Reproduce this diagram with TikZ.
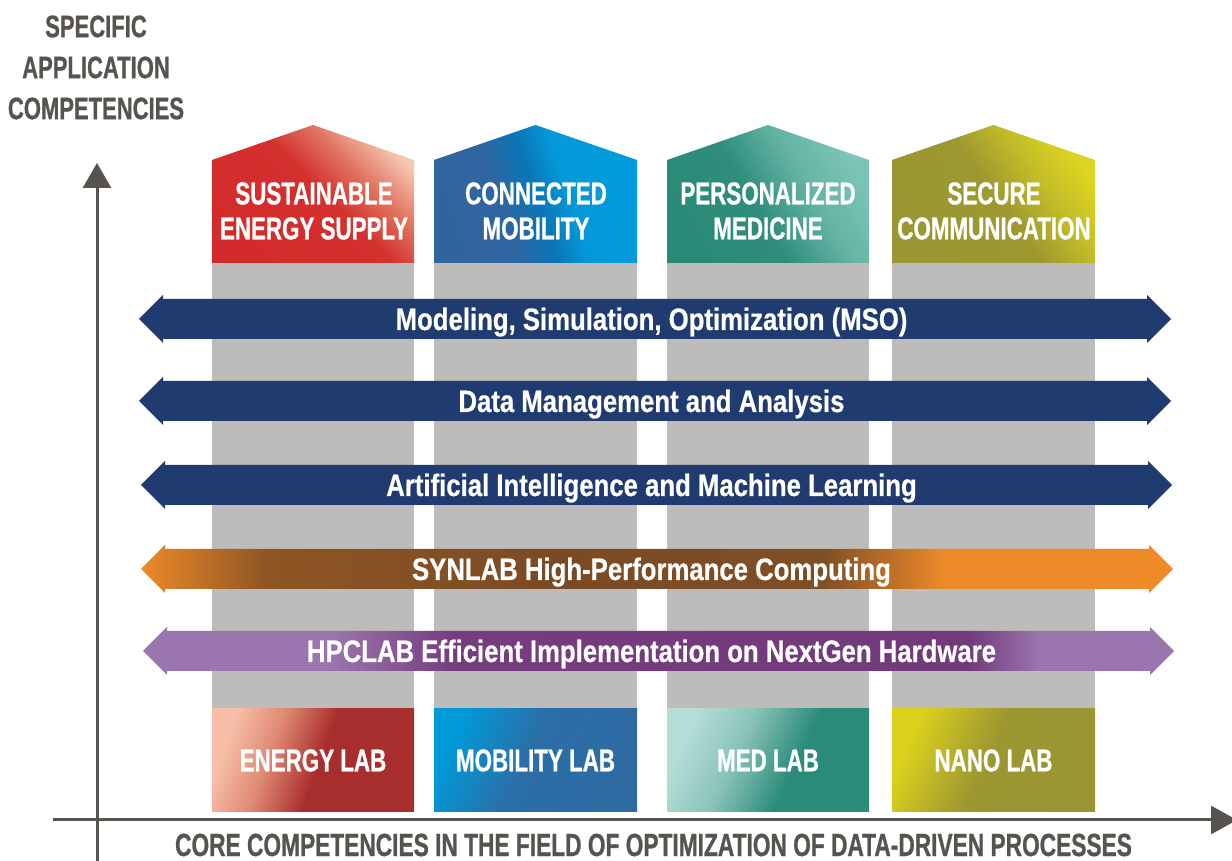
\documentclass[tikz,border=0pt]{standalone}
\usepackage{fontspec}
\setmainfont{Liberation Sans}
\newfontfamily\capsf{Liberation Sans}[FakeStretch=0.71, BoldFeatures={FakeBold=0.8}]
\newfontfamily\lowf{Liberation Sans}[FakeStretch=0.83, BoldFeatures={FakeBold=0.6}]
\usetikzlibrary{arrows.meta}

\definecolor{axisgray}{HTML}{57534F}
\definecolor{colgray}{HTML}{BDBCBA}
\definecolor{navy}{HTML}{1F3B70}

\pgfdeclarehorizontalshading{enTop}{100bp}{color(0bp)=(rgb,255:red,211;green,43;blue,43); color(25bp)=(rgb,255:red,211;green,43;blue,43); color(52bp)=(rgb,255:red,211;green,48;blue,46); color(64bp)=(rgb,255:red,224;green,117;blue,96); color(76bp)=(rgb,255:red,245;green,200;blue,180); color(100bp)=(rgb,255:red,245;green,200;blue,180)}
\pgfdeclarehorizontalshading{moTop}{100bp}{color(0bp)=(rgb,255:red,49;green,100;blue,159); color(25bp)=(rgb,255:red,49;green,100;blue,159); color(40bp)=(rgb,255:red,47;green,102;blue,162); color(50bp)=(rgb,255:red,10;green,118;blue,182); color(58bp)=(rgb,255:red,4;green,152;blue,216); color(75bp)=(rgb,255:red,0;green,156;blue,221); color(100bp)=(rgb,255:red,0;green,156;blue,221)}
\pgfdeclarehorizontalshading{meTop}{100bp}{color(0bp)=(rgb,255:red,42;green,138;blue,120); color(25bp)=(rgb,255:red,42;green,138;blue,120); color(45bp)=(rgb,255:red,46;green,141;blue,123); color(60bp)=(rgb,255:red,98;green,178;blue,163); color(75bp)=(rgb,255:red,124;green,197;blue,182); color(100bp)=(rgb,255:red,124;green,197;blue,182)}
\pgfdeclarehorizontalshading{naTop}{100bp}{color(0bp)=(rgb,255:red,154;green,150;blue,50); color(25bp)=(rgb,255:red,154;green,150;blue,50); color(50bp)=(rgb,255:red,158;green,152;blue,48); color(63bp)=(rgb,255:red,194;green,188;blue,40); color(75bp)=(rgb,255:red,221;green,213;blue,32); color(100bp)=(rgb,255:red,221;green,213;blue,32)}
\pgfdeclarehorizontalshading{enLab}{100bp}{color(0bp)=(rgb,255:red,247;green,190;blue,168); color(25bp)=(rgb,255:red,247;green,190;blue,168); color(38bp)=(rgb,255:red,222;green,136;blue,114); color(52bp)=(rgb,255:red,168;green,45;blue,45); color(75bp)=(rgb,255:red,168;green,45;blue,45); color(100bp)=(rgb,255:red,168;green,45;blue,45)}
\pgfdeclarehorizontalshading{moLab}{100bp}{color(0bp)=(rgb,255:red,0;green,154;blue,217); color(25bp)=(rgb,255:red,0;green,154;blue,217); color(47bp)=(rgb,255:red,42;green,111;blue,168); color(75bp)=(rgb,255:red,46;green,107;blue,162); color(100bp)=(rgb,255:red,46;green,107;blue,162)}
\pgfdeclarehorizontalshading{meLab}{100bp}{color(0bp)=(rgb,255:red,181;green,221;blue,216); color(25bp)=(rgb,255:red,181;green,221;blue,216); color(40bp)=(rgb,255:red,140;green,196;blue,186); color(58bp)=(rgb,255:red,42;green,139;blue,121); color(75bp)=(rgb,255:red,42;green,139;blue,121); color(100bp)=(rgb,255:red,42;green,139;blue,121)}
\pgfdeclarehorizontalshading{naLab}{100bp}{color(0bp)=(rgb,255:red,220;green,210;blue,28); color(25bp)=(rgb,255:red,220;green,210;blue,28); color(48bp)=(rgb,255:red,157;green,151;blue,49); color(75bp)=(rgb,255:red,154;green,148;blue,51); color(100bp)=(rgb,255:red,154;green,148;blue,51)}
\pgfdeclarehorizontalshading{synSh}{100bp}{color(0bp)=(rgb,255:red,238;green,138;blue,40); color(25bp)=(rgb,255:red,238;green,138;blue,40); color(31bp)=(rgb,255:red,143;green,86;blue,36); color(45bp)=(rgb,255:red,123;green,74;blue,36); color(58bp)=(rgb,255:red,127;green,78;blue,37); color(64bp)=(rgb,255:red,238;green,138;blue,40); color(75bp)=(rgb,255:red,238;green,138;blue,40); color(100bp)=(rgb,255:red,238;green,138;blue,40)}
\pgfdeclarehorizontalshading{hpcSh}{100bp}{color(0bp)=(rgb,255:red,155;green,118;blue,174); color(25bp)=(rgb,255:red,155;green,118;blue,174); color(34bp)=(rgb,255:red,155;green,118;blue,174); color(40bp)=(rgb,255:red,118;green,61;blue,126); color(65bp)=(rgb,255:red,113;green,58;blue,123); color(68.5bp)=(rgb,255:red,155;green,118;blue,174); color(75bp)=(rgb,255:red,155;green,118;blue,174); color(100bp)=(rgb,255:red,155;green,118;blue,174)}

\newcommand{\bidir}[4]{%
  \path[#4] (#1,#3) -- ++(24,24) -- ++(0,-4) -- ({#2-24},{#3+20}) -- ++(0,4)
    -- (#2,#3) -- ++(-24,-24) -- ++(0,4) -- ({#1+24},{#3-20}) -- ++(0,-4) -- cycle;}
\newcommand{\house}[3]{%
  \shade[#3] (#1,598) -- (#1,701) -- ({(#1+#2)/2},736) -- (#2,701) -- (#2,598) -- cycle;}

\begin{document}
\begin{tikzpicture}[x=1pt,y=1pt,
  hdrtext/.style={text=white, align=center, inner sep=0pt,
    font=\capsf\bfseries\fontsize{31.5}{35}\selectfont},
  labbox/.style={rectangle, shade, minimum height=103pt, inner sep=0pt, text=white,
    font=\capsf\bfseries\fontsize{31.5}{35}\selectfont},
  arrtext/.style={text=white, inner sep=0pt, anchor=base,
    font=\lowf\bfseries\fontsize{31}{35}\selectfont},
  axislabel/.style={text=axisgray, align=center, inner sep=0pt,
    font=\capsf\bfseries\fontsize{31}{41}\selectfont},
  axisline/.style={draw=axisgray, line width=3pt},
  colbar/.style={fill=colgray}]
\useasboundingbox (0,0) rectangle (1232,861);

% gray columns
\fill[colbar] (212,152) rectangle (414,598);
\fill[colbar] (434,152) rectangle (637,598);
\fill[colbar] (667,152) rectangle (869,598);
\fill[colbar] (892,152) rectangle (1095,598);

% header houses
\house{212}{414}{shading=enTop, shading angle=45}
\house{434}{637}{shading=moTop, shading angle=18}
\house{667}{869}{shading=meTop, shading angle=30}
\house{892}{1095}{shading=naTop, shading angle=35}

\node[hdrtext] (h1) at (314,650) {SUSTAINABLE\\ENERGY SUPPLY};
\node[hdrtext] (h2) at (536,650) {CONNECTED\\MOBILITY};
\node[hdrtext] (h3) at (768,650) {PERSONALIZED\\MEDICINE};
\node[hdrtext] (h4) at (994,650) {SECURE\\COMMUNICATION};

% lab boxes
\node[labbox, minimum width=202pt, shading=enLab, shading angle=-20] (l1) at (313,100.5) {ENERGY LAB};
\node[labbox, minimum width=203pt, shading=moLab, shading angle=-25] (l2) at (535.5,100.5) {MOBILITY LAB};
\node[labbox, minimum width=202pt, shading=meLab, shading angle=-25] (l3) at (768,100.5) {MED LAB};
\node[labbox, minimum width=203pt, shading=naLab, shading angle=-25] (l4) at (993.5,100.5) {NANO LAB};

% horizontal double arrows
\bidir{139}{1171}{542}{fill=navy}
\bidir{139}{1171}{460}{fill=navy}
\bidir{141}{1172}{376}{fill=navy}
\bidir{141}{1173}{292}{shade, shading=synSh}
\bidir{143}{1174}{210}{shade, shading=hpcSh}

\node[arrtext] (a1) at (651.5,531) {Modeling, Simulation, Optimization (MSO)};
\node[arrtext] (a2) at (651.5,449) {Data Management and Analysis};
\node[arrtext] (a3) at (651.5,365) {Artificial Intelligence and Machine Learning};
\node[arrtext] (a4) at (651.5,281) {SYNLAB High-Performance Computing};
\node[arrtext] (a5) at (651.5,199) {HPCLAB Efficient Implementation on NextGen Hardware};

% axes
\coordinate (ybot) at (97,0);
\coordinate (ytip) at (97,698);
\coordinate (xleft) at (53,41);
\coordinate (xtip) at (1237,41);
\draw[axisline, -{Triangle[length=25pt,width=28pt]}] (ybot) -- (ytip);
\draw[axisline, -{Triangle[length=26pt,width=28pt]}] (xleft) -- (xtip);

\node[axislabel] (ylab) at (96,793.5) {SPECIFIC\\APPLICATION\\COMPETENCIES};
\node[axislabel, font=\capsf\bfseries\fontsize{32}{36}\selectfont] (xlab) at (653.5,16)
  {CORE COMPETENCIES IN THE FIELD OF OPTIMIZATION OF DATA-DRIVEN PROCESSES};
\end{tikzpicture}
\end{document}
